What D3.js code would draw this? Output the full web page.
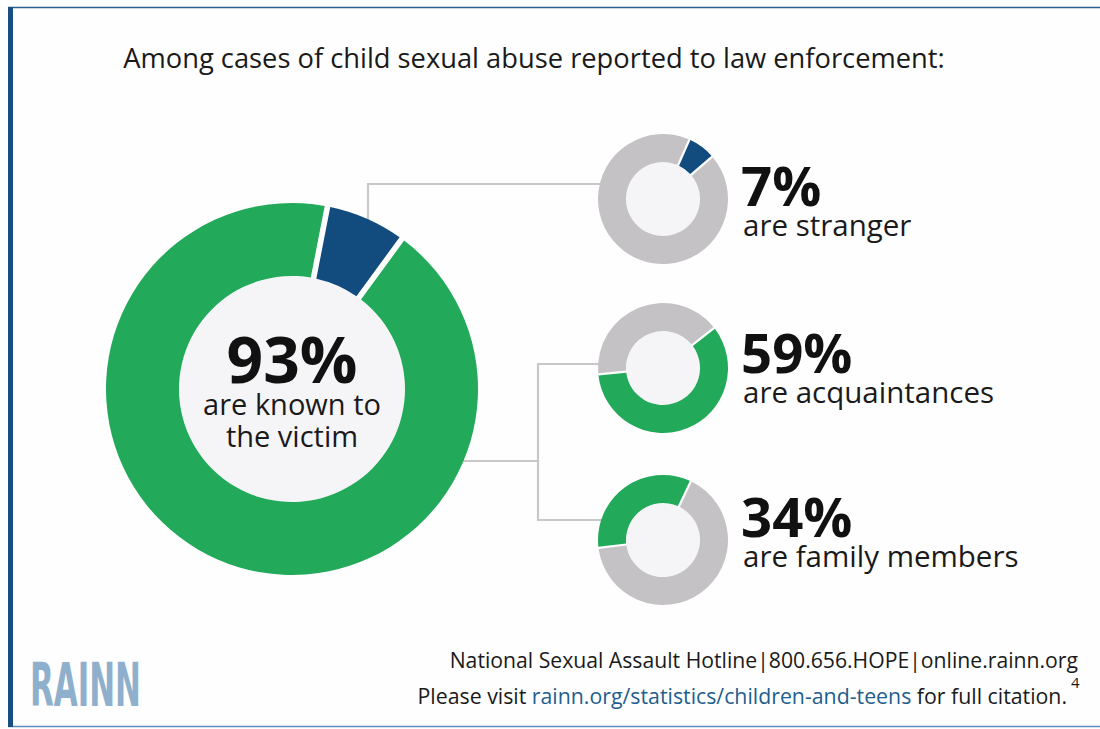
<!DOCTYPE html>
<html>
<head>
<meta charset="utf-8">
<script src="https://cdn.jsdelivr.net/npm/d3@7"></script>
<style>
  html, body { margin: 0; padding: 0; background: #fefefe; }
  svg { display: block; font-family: "Open Sans", "Noto Sans", sans-serif; }
</style>
</head>
<body>
<div id="vis"></div>
<script>
  // data
  var titleText = 'Among cases of child sexual abuse reported to law enforcement:';
  var mainNames = ['stranger', 'known'];
  var mainValues = [7, 93];
  var mainLabel = ['are known to', 'the victim'];
  var subNames = ['stranger', 'acquaintances', 'family members'];
  var subValues = [7, 59, 34];
  var subLabels = ['are stranger', 'are acquaintances', 'are family members'];
  var footerLine1 = 'National Sexual Assault Hotline|800.656.HOPE|online.rainn.org';
  var footerLink = 'rainn.org/statistics/children-and-teens';

  var width = 1100, height = 729;
  var green = '#22a95a', blue = '#124b7e', grey = '#c4c2c4', hole = '#f5f5f8', line = '#c8c8c8';

  var svg = d3.select('#vis')
    .append('svg')
    .attr('width', width)
    .attr('height', height);

  svg.append('rect').attr('width', width).attr('height', height).attr('fill', '#fefefe');

  // frame
  svg.append('line').attr('x1', 8).attr('x2', width).attr('y1', 7.5).attr('y2', 7.5)
    .attr('stroke', '#2b5f8e').attr('stroke-width', 1.5);
  svg.append('line').attr('x1', 8).attr('x2', width).attr('y1', 726.5).attr('y2', 726.5)
    .attr('stroke', '#5b8fbf').attr('stroke-width', 1.5);
  svg.append('rect').attr('x', 8).attr('y', 7).attr('width', 5).attr('height', 720).attr('fill', '#1a4d80');

  svg.append('text')
    .attr('x', 534).attr('y', 68)
    .attr('text-anchor', 'middle')
    .attr('font-size', 27.3)
    .attr('fill', '#1a1a1a')
    .text(titleText);

  var deg = Math.PI / 180;

  // connector lines (behind the donuts)
  var conn = svg.append('g').attr('fill', 'none').attr('stroke', line).attr('stroke-width', 2.2);
  conn.append('path').attr('d', 'M368,225 V184 H605');
  conn.append('path').attr('d', 'M460,461 H538');
  conn.append('path').attr('d', 'M605,364 H538 V520 H605');

  // big donut
  var big = {cx: 292, cy: 389, r0: 113, r1: 186, start: 11};
  var bigPie = d3.pie().sort(null)
    .startAngle(big.start * deg).endAngle(big.start * deg + 2 * Math.PI);
  var bigArc = d3.arc().innerRadius(big.r0).outerRadius(big.r1).padAngle(0.026);
  var gBig = svg.append('g').attr('transform', 'translate(' + big.cx + ',' + big.cy + ')');
  gBig.append('circle').attr('r', big.r0).attr('fill', hole);
  gBig.selectAll('path')
    .data(bigPie(mainValues))
    .enter()
    .append('path')
    .attr('d', bigArc)
    .attr('fill', function(d, i) { return mainNames[i] === 'stranger' ? blue : green; });
  gBig.append('text')
    .attr('y', -6).attr('text-anchor', 'middle')
    .attr('font-size', 64).attr('font-weight', 700).attr('fill', '#111')
    .text(mainValues[1] + '%');
  gBig.selectAll('.sub')
    .data(mainLabel)
    .enter()
    .append('text')
    .attr('class', 'sub')
    .attr('y', function(d, i) { return 26 + i * 32; })
    .attr('text-anchor', 'middle')
    .attr('font-size', 29).attr('fill', '#1a1a1a')
    .text(function(d) { return d; });

  // small donuts
  var smallY = [199, 368, 540];
  var textY = [206, 373, 537];
  var smallStart = [24, 52, 263];
  var smallColor = [blue, green, green];
  var smallArc = d3.arc().innerRadius(37).outerRadius(65).padAngle(0.03);

  subValues.forEach(function(v, i) {
    var pie = d3.pie().sort(null)
      .startAngle(smallStart[i] * deg).endAngle(smallStart[i] * deg + 2 * Math.PI);
    var g = svg.append('g').attr('transform', 'translate(663,' + smallY[i] + ')');
    g.append('circle').attr('r', 37).attr('fill', hole);
    g.selectAll('path')
      .data(pie([v, 100 - v]))
      .enter()
      .append('path')
      .attr('d', smallArc)
      .attr('fill', function(d, j) { return j === 0 ? smallColor[i] : grey; });

    svg.append('text')
      .attr('x', 741).attr('y', textY[i])
      .attr('font-size', 54.5).attr('font-weight', 700).attr('fill', '#111')
      .text(v + '%');
    svg.append('text')
      .attr('x', 743).attr('y', textY[i] + 30)
      .attr('font-size', 29.5).attr('fill', '#1a1a1a')
      .text(subLabels[i]);
  });

  // footer
  svg.append('text')
    .attr('x', 1078).attr('y', 668)
    .attr('text-anchor', 'end')
    .attr('font-size', 21.2).attr('fill', '#1a1a1a')
    .text(footerLine1);
  var f2 = svg.append('text')
    .attr('x', 1067).attr('y', 704)
    .attr('text-anchor', 'end')
    .attr('font-size', 21.3).attr('fill', '#1a1a1a');
  f2.append('tspan').text('Please visit ');
  f2.append('tspan').attr('fill', '#1f5f8e').text(footerLink);
  f2.append('tspan').text(' for full citation.');
  svg.append('text')
    .attr('x', 1071).attr('y', 688)
    .attr('font-size', 15).attr('fill', '#1a1a1a')
    .text('4');

  svg.append('text')
    .attr('x', 30).attr('y', 706)
    .attr('font-family', '"Liberation Sans Narrow", "DejaVu Sans Condensed", sans-serif')
    .attr('font-weight', 700)
    .attr('font-size', 60)
    .attr('textLength', 111).attr('lengthAdjust', 'spacingAndGlyphs')
    .attr('fill', '#8fb0cc')
    .text('RAINN');
</script>
</body>
</html>
